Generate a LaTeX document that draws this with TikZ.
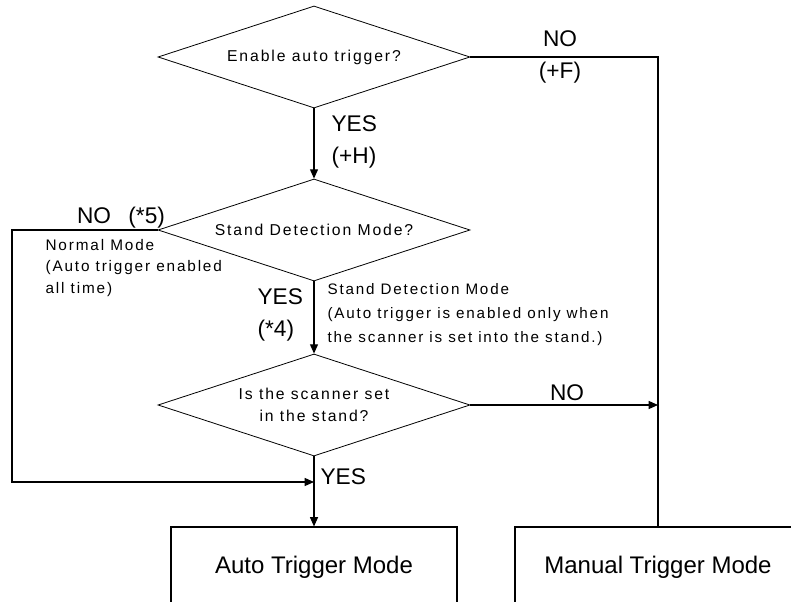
\documentclass[tikz,border=0pt]{standalone}
\usepackage{fontspec}
\setmainfont{Liberation Sans}
\newfontfamily\smallfont[LetterSpace=12]{Liberation Sans}
\usetikzlibrary{shapes.geometric,arrows.meta}
\begin{document}
\begin{tikzpicture}[x=0.75pt,y=-0.75pt,line width=0.9pt,>={Triangle[length=7pt,width=6pt]},
    decision/.style={draw,diamond,aspect=3,minimum width=234pt,minimum height=76.5pt,inner sep=0pt,line width=0.6pt,align=center,font=\smallfont\fontsize{11.8}{16}\selectfont},
    modebox/.style={draw,rectangle,minimum width=214.5pt,minimum height=60pt,line width=0.8pt,font=\fontsize{18}{22}\selectfont},
    flowlabel/.style={inner sep=0pt,font=\fontsize{17}{24}\selectfont}]
    \useasboundingbox (0,0) rectangle (791,602);
    \clip (0,0) rectangle (791,602);
    \node[decision] (enable) at (314,57) {Enable auto trigger?};
    \node[decision] (stand) at (314,230) {Stand Detection Mode?};
    \node[decision] (inset) at (314,405) {Is the scanner set\\in the stand?};
    \node[modebox] (auto) at (314,567) {Auto Trigger Mode};
    \node[modebox] (manual) at (658,567) {Manual Trigger Mode};
    \coordinate (leftcorner) at (12,482);
    \coordinate (merge) at (314,482);
    \draw[->] (enable.south) -- (stand.north);
    \draw (enable.east) -| (manual.north);
    \draw[->] (stand.west) -| (leftcorner) -- (merge);
    \draw[->] (stand.south) -- (inset.north);
    \draw[->] (inset.east) -- (inset.east -| manual.north);
    \draw[->] (inset.south) -- (auto.north);
    \node[flowlabel,align=center] (nof) at (560,57) {NO\\(+F)};
    \node[flowlabel,align=left,anchor=west] (yesh) at (331,142) {YES\\(+H)};
    \node[flowlabel] (nofive) at (121,218) {NO\hspace{13pt}(*5)};
    \node[flowlabel,align=left,anchor=west] (yesfour) at (257,315) {YES\\(*4)};
    \node[flowlabel] (nostand) at (567,393) {NO};
    \node[flowlabel,anchor=west] (yesin) at (320,477) {YES};
    \node[inner sep=0pt,anchor=west,align=left,font=\smallfont\fontsize{11.5}{16}\selectfont] (normalnote) at (45,268) {Normal Mode\\(Auto trigger enabled\\all time)};
    \node[inner sep=0pt,anchor=west,align=left,font=\smallfont\fontsize{11.4}{18}\selectfont] (standnote) at (327,315) {Stand Detection Mode\\(Auto trigger is enabled only when\\the scanner is set into the stand.)};
\end{tikzpicture}
\end{document}
